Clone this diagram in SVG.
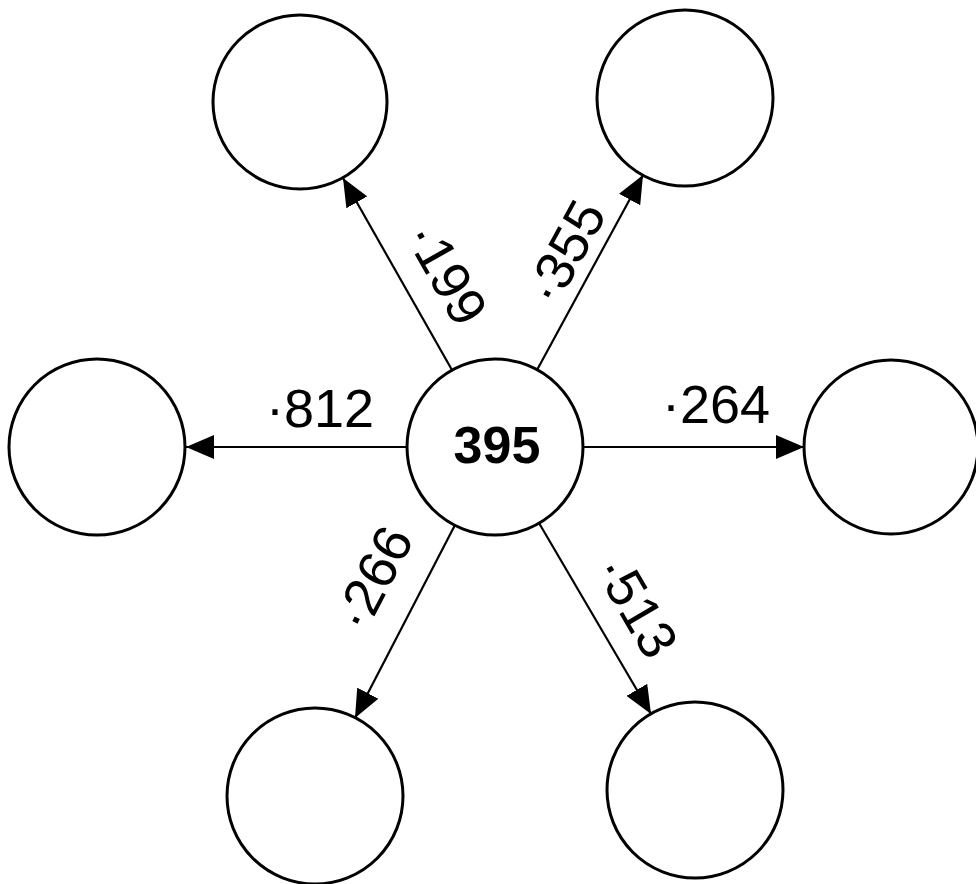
<svg xmlns="http://www.w3.org/2000/svg" width="976" height="884" viewBox="0 0 976 884">
<style>
.node{fill:#fff;stroke:#000;stroke-width:3}
.edge{stroke:#000;stroke-width:2.2;fill:none;marker-end:url(#ah)}
.lbl{font-family:"Liberation Sans",Arial,sans-serif;font-size:54px;fill:#000;text-anchor:middle}
.c{font-family:"Liberation Sans",Arial,sans-serif;font-size:52px;font-weight:bold;fill:#000;text-anchor:middle}
</style>
<defs>
<marker id="ah" viewBox="0 0 28 24" refX="28" refY="12" markerWidth="28" markerHeight="24" markerUnits="userSpaceOnUse" orient="auto">
<path d="M0,0 L28,12 L0,24 Z" fill="#000"/>
</marker>
</defs>
<rect width="976" height="884" fill="#fff"/>
<g id="edges">
<line class="edge" x1="452" y1="370" x2="343" y2="178"/>
<line class="edge" x1="537" y1="370" x2="643" y2="175"/>
<line class="edge" x1="407" y1="447" x2="186" y2="447"/>
<line class="edge" x1="583" y1="447" x2="804" y2="447"/>
<line class="edge" x1="455" y1="525" x2="355" y2="718"/>
<line class="edge" x1="539" y1="523" x2="651" y2="714"/>
</g>
<g id="labels">
<text class="lbl" transform="translate(447,273) rotate(60.5)" x="0" y="19">·199</text>
<text class="lbl" transform="translate(565,252) rotate(-61.4)" x="0" y="19">·355</text>
<text class="lbl" x="320" y="427">·812</text>
<text class="lbl" x="716" y="423">·264</text>
<text class="lbl" transform="translate(373,578) rotate(-62.7)" x="0" y="19">·266</text>
<text class="lbl" transform="translate(637,606) rotate(59.7)" x="0" y="19">·513</text>
</g>
<g id="n0"><circle class="node" cx="495" cy="447" r="88"/><text class="c" x="497" y="463">395</text></g>
<g id="n1"><circle class="node" cx="300" cy="102" r="87"/></g>
<g id="n2"><circle class="node" cx="685" cy="98" r="88"/></g>
<g id="n3"><circle class="node" cx="97" cy="447" r="88"/></g>
<g id="n4"><circle class="node" cx="891" cy="447" r="87"/></g>
<g id="n5"><circle class="node" cx="315" cy="796" r="88"/></g>
<g id="n6"><circle class="node" cx="695" cy="790" r="88"/></g>
</svg>
